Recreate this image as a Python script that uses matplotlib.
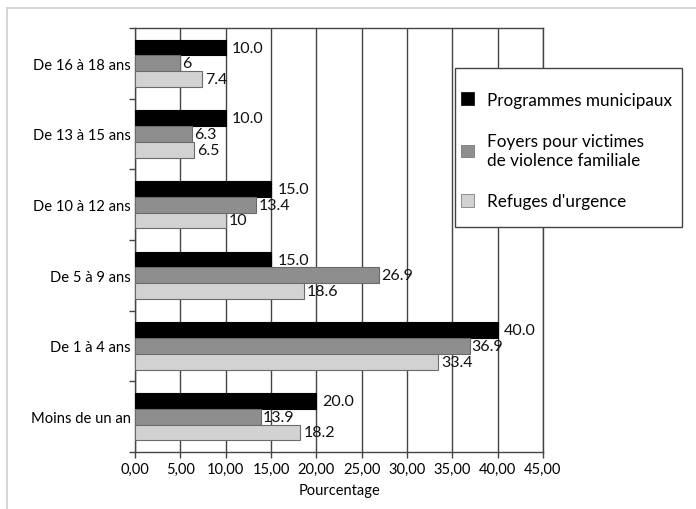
import numpy as np
import matplotlib
matplotlib.use("Agg")
import matplotlib.pyplot as plt
from matplotlib.lines import Line2D
from matplotlib.patches import Rectangle

plt.rcParams["font.family"] = ["Lato", "DejaVu Sans"]

categories = ["Moins de un an", "De 1 à 4 ans", "De 5 à 9 ans",
              "De 10 à 12 ans", "De 13 à 15 ans", "De 16 à 18 ans"]
series = ["Programmes municipaux", "Foyers pour victimes\nde violence familiale", "Refuges d'urgence"]
municipaux = [20.0, 40.0, 15.0, 15.0, 10.0, 10.0]
foyers = [13.9, 36.9, 26.9, 13.4, 6.3, 5.0]
refuges = [18.2, 33.4, 18.6, 10.0, 6.5, 7.4]
lab_municipaux = ["20.0", "40.0", "15.0", "15.0", "10.0", "10.0"]
lab_foyers = ["13.9", "36.9", "26.9", "13.4", "6.3", "6"]
lab_refuges = ["18.2", "33.4", "18.6", "10", "6.5", "7.4"]
xticks = np.arange(0, 50, 5)
xticklabels = [f"{v:.2f}".replace(".", ",") for v in xticks]

W, H = 696, 510
fig = plt.figure(figsize=(W / 100, H / 100), dpi=100)
ax = fig.add_axes([135 / W, 1 - 453 / H, (543 - 135) / W, (453 - 29) / H])

# light outer frame (cropped at right and bottom)
fig.add_artist(Line2D([7 / W, 1], [1 - 9 / H, 1 - 9 / H], color="#cfcfcf", lw=1.2))
fig.add_artist(Line2D([7 / W, 7 / W], [0, 1 - 9 / H], color="#cfcfcf", lw=1.2))

y = np.arange(len(categories))
h = 0.222
colors = ["#000000", "#8e8e8e", "#d2d2d2"]
edges = ["#000000", "#6a6a6a", "#6a6a6a"]
offs = [4.5, 1.5, 2.5]
for vals, labs, dy, c, ec, lab, off in zip([municipaux, foyers, refuges],
                                           [lab_municipaux, lab_foyers, lab_refuges],
                                           [h, 0, -h], colors, edges, series, offs):
    ax.barh(y + dy, vals, height=h, color=c, edgecolor=ec, linewidth=0.8, label=lab, zorder=3)
    for yy, v, t in zip(y + dy, vals, labs):
        ax.annotate(t, (v, yy), xytext=(off, 0), textcoords="offset points",
                    ha="left", va="center", fontsize=11.5, color="#111111", zorder=4)

ax.set_xlim(0, 45)
ax.set_ylim(-0.5, len(categories) - 0.5)
ax.set_xticks(xticks)
ax.set_xticklabels(xticklabels, fontsize=10.5)
ax.set_yticks(np.arange(-0.5, len(categories), 1))
ax.set_yticklabels([])
ax.set_yticks(y, minor=True)
ax.set_yticklabels(categories, minor=True, fontsize=10.6)
ax.tick_params(axis="y", which="minor", length=0, pad=3)
ax.tick_params(axis="y", which="major", length=4, width=1, color="#444444")
ax.tick_params(axis="x", length=4, width=1, color="#444444", pad=3)
ax.grid(axis="x", color="#444444", lw=1, zorder=1)
for s in ax.spines.values():
    s.set_color("#444444")
    s.set_linewidth(1)
ax.set_xlabel("Pourcentage", fontsize=10.5, labelpad=5)

# legend box drawn separately so padding matches the reference
ax.add_patch(Rectangle((455 / W, 1 - 228 / H), (682 - 455) / W, (228 - 69) / H,
                       transform=fig.transFigure, facecolor="white", clip_on=False,
                       edgecolor="#444444", lw=1, zorder=5))
leg = ax.legend(loc="center left", bbox_to_anchor=(461 / W, 1 - 151.5 / H),
                bbox_transform=fig.transFigure, fontsize=12.3, frameon=False,
                handlelength=0.75, handleheight=0.75,
                handletextpad=0.75, labelspacing=1.5, borderpad=0, borderaxespad=0)
leg.set_zorder(6)
for p in leg.get_patches():
    p.set_linewidth(0.5)

fig.savefig("out.png", dpi=100, facecolor="white")
